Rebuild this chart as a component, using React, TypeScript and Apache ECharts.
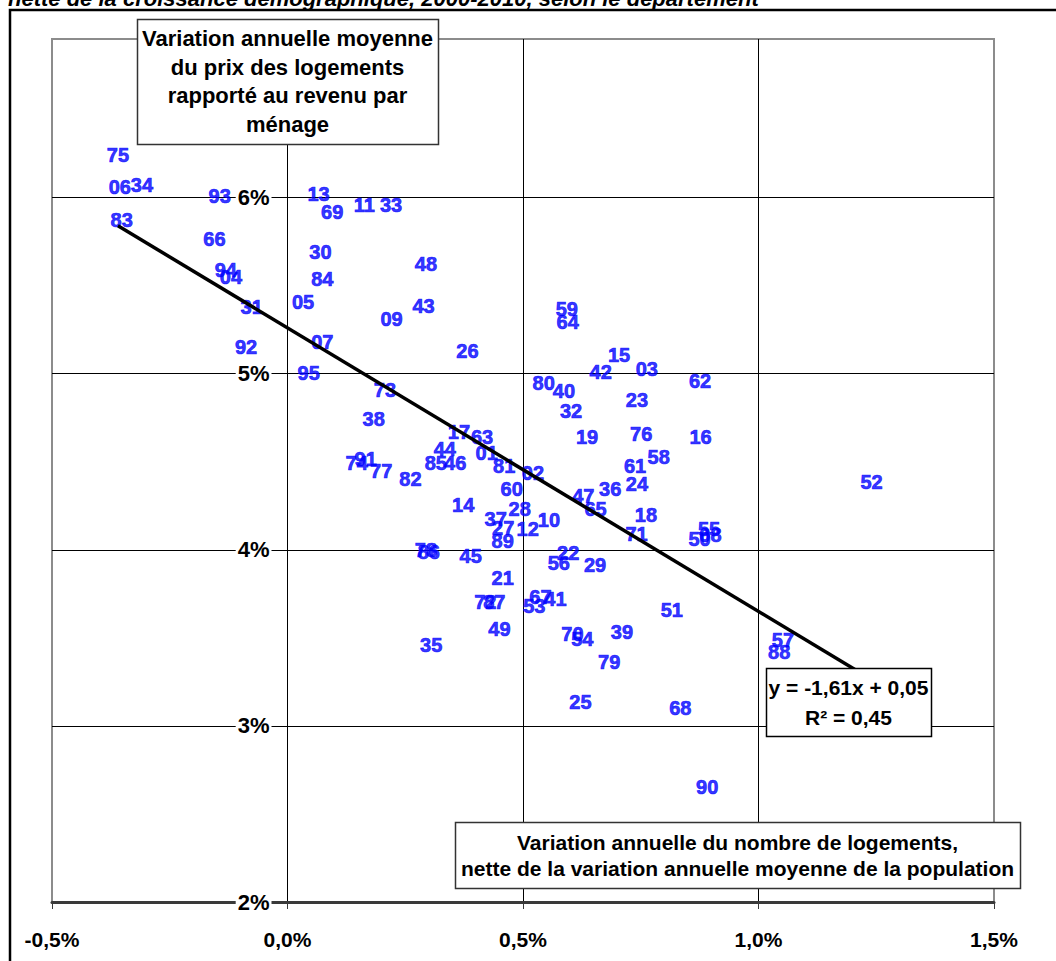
import React, { useEffect, useRef } from "react";
import * as echarts from "echarts";

// Department codes
const codes = ['75','06','34','83','93','13','69','11','33','66','94','04','31','92','30','84','05','07','95','48','09','43','26','59','64','15','42','03','62','73','80','40','32','23','38','17','63','19','76','16','44','01','74','91','77','85','46','82','81','02','61','58','24','36','47','65','60','14','28','37','10','18','27','12','71','89','55','08','50','52','78','86','45','22','56','29','21','72','87','67','41','53','51','49','39','70','54','35','79','57','88','25','68','90'];

// Annual change in number of dwellings net of population growth (%)
const xValues = [-0.360,-0.356,-0.309,-0.352,-0.144,0.066,0.095,0.163,0.220,-0.155,-0.131,-0.120,-0.076,-0.088,0.070,0.074,0.033,0.074,0.045,0.294,0.221,0.289,0.382,0.593,0.595,0.704,0.665,0.763,0.876,0.207,0.544,0.587,0.602,0.742,0.183,0.364,0.413,0.636,0.751,0.877,0.334,0.423,0.147,0.166,0.199,0.315,0.356,0.261,0.460,0.521,0.738,0.788,0.742,0.685,0.628,0.654,0.476,0.373,0.493,0.442,0.555,0.761,0.458,0.510,0.741,0.457,0.895,0.898,0.875,1.240,0.294,0.300,0.389,0.596,0.576,0.653,0.457,0.420,0.439,0.537,0.569,0.524,0.816,0.450,0.710,0.605,0.626,0.305,0.683,1.052,1.044,0.622,0.834,0.891];

// Annual change in housing price relative to household income (%)
const yValues = [6.24,6.06,6.07,5.87,6.01,6.02,5.915,5.956,5.96,5.763,5.586,5.547,5.381,5.153,5.693,5.54,5.409,5.179,5.001,5.625,5.308,5.386,5.128,5.368,5.295,5.108,5.011,5.028,4.96,4.905,4.946,4.899,4.785,4.848,4.745,4.668,4.642,4.643,4.659,4.639,4.574,4.548,4.49,4.517,4.449,4.494,4.494,4.399,4.477,4.436,4.473,4.526,4.376,4.344,4.307,4.23,4.344,4.256,4.23,4.177,4.168,4.2,4.121,4.116,4.092,4.049,4.119,4.081,4.063,4.386,4.0,3.989,3.966,3.983,3.922,3.915,3.841,3.706,3.706,3.733,3.719,3.682,3.656,3.548,3.534,3.524,3.496,3.459,3.364,3.49,3.418,3.138,3.102,2.653];

// Trend line (in % units): y = slope * x + intercept
const trendSlope = -1.61;
const trendIntercept = 5.26;

const titleText = "nette de la croissance démographique, 2000-2010, selon le département";
const yTitleLines = ["Variation annuelle moyenne", "du prix des logements", "rapporté au revenu par", "ménage"];
const xTitleLines = ["Variation annuelle du nombre de logements,", "nette de la variation annuelle moyenne de la population"];
const trendLines = ["y = -1,61x + 0,05", "R² = 0,45"];

const FONT = "'Liberation Sans', Arial, Helvetica, sans-serif";

export default function App() {
  const ref = useRef<HTMLDivElement>(null);

  useEffect(() => {
    if (!ref.current) return;
    const chart = echarts.init(ref.current, undefined, { renderer: "svg" });

    const points = codes.map((c, i) => [xValues[i], yValues[i], c]);
    const xmin = Math.min(...xValues);
    const xmax = Math.max(...xValues);
    const trendData = [
      [xmin, trendSlope * xmin + trendIntercept],
      [xmax, trendSlope * xmax + trendIntercept],
    ];

    chart.setOption({
      animation: false,
      backgroundColor: "#ffffff",
      textStyle: { fontFamily: FONT },
      grid: {
        left: 52,
        top: 39,
        right: 62,
        bottom: 59,
        show: true,
        borderColor: "#8c8c8c",
        borderWidth: 2,
        backgroundColor: "transparent",
      },
      xAxis: {
        type: "value",
        min: -0.5,
        max: 1.5,
        interval: 0.5,
        axisLine: { show: true, onZero: false, lineStyle: { color: "#3a3a3a", width: 3 } },
        axisTick: { show: true, length: 7, lineStyle: { color: "#3a3a3a", width: 1 } },
        axisLabel: {
          show: true,
          showMinLabel: true,
          showMaxLabel: true,
          margin: 27,
          fontSize: 21,
          fontWeight: "bold",
          color: "#000",
          fontFamily: FONT,
          formatter: (v: number) => v.toFixed(1).replace(".", ",").replace("-0,0", "0,0") + "%",
        },
        splitLine: { show: true, showMinLine: false, showMaxLine: false, lineStyle: { color: "#000", width: 1 } },
      },
      yAxis: {
        type: "value",
        min: 2,
        max: 6.9,
        interval: 1,
        offset: -235.5,
        axisLine: { show: true, onZero: false, lineStyle: { color: "#000", width: 1 } },
        axisTick: { show: false },
        axisLabel: {
          show: true,
          margin: 16,
          fontSize: 22,
          fontWeight: "bold",
          color: "#000",
          fontFamily: FONT,
          backgroundColor: "#fff",
          padding: [1, 2],
          formatter: (v: number) => (Math.abs(v - Math.round(v)) < 1e-6 ? Math.round(v) + "%" : ""),
        },
        splitLine: { show: true, showMinLine: false, showMaxLine: false, lineStyle: { color: "#000", width: 1 } },
      },
      series: [
        {
          type: "scatter",
          z: 2,
          data: points,
          symbolSize: 1,
          itemStyle: { color: "rgba(0,0,0,0)" },
          label: {
            show: true,
            position: "inside",
            formatter: (p: any) => p.value[2],
            color: "#0000ff",
            fontWeight: "bold",
            fontSize: 20,
            fontFamily: FONT,
            textBorderWidth: 0.7,
            textBorderColor: "#0000ff",
          },
          emphasis: { disabled: true },
        },
        {
          type: "line",
          z: 3,
          data: trendData,
          symbol: "none",
          lineStyle: { color: "#000", width: 3.5 },
          emphasis: { disabled: true },
        },
      ],
      graphic: [
        {
          type: "rect",
          z: 100,
          shape: { x: 10, y: 10, width: 1200, height: 1200 },
          style: { fill: "none", stroke: "#000", lineWidth: 2.5 },
        },
        {
          type: "text",
          z: 100,
          x: 8,
          y: -2,
          style: {
            text: titleText,
            font: `italic bold 22px ${FONT}`,
            fill: "#000",
            align: "left",
            verticalAlign: "middle",
          },
        },
        {
          type: "rect",
          z: 100,
          shape: { x: 137.5, y: 19.5, width: 301, height: 125 },
          style: { fill: "#fff", stroke: "#333", lineWidth: 1.5 },
        },
        {
          type: "text",
          z: 101,
          x: 287.5,
          y: 81.5,
          style: {
            text: yTitleLines.join("\n"),
            font: `bold 22px ${FONT}`,
            lineHeight: 28.5,
            fill: "#000",
            align: "center",
            verticalAlign: "middle",
          },
        },
        {
          type: "rect",
          z: 100,
          shape: { x: 455.5, y: 822.5, width: 565, height: 66 },
          style: { fill: "#fff", stroke: "#333", lineWidth: 1.5 },
        },
        {
          type: "text",
          z: 101,
          x: 737.5,
          y: 855,
          style: {
            text: xTitleLines.join("\n"),
            font: `bold 21px ${FONT}`,
            lineHeight: 26,
            fill: "#000",
            align: "center",
            verticalAlign: "middle",
          },
        },
        {
          type: "rect",
          z: 100,
          shape: { x: 766.5, y: 668.5, width: 165, height: 68 },
          style: { fill: "#fff", stroke: "#000", lineWidth: 1.5 },
        },
        {
          type: "text",
          z: 101,
          x: 848.5,
          y: 702,
          style: {
            text: trendLines.join("\n"),
            font: `bold 21px ${FONT}`,
            lineHeight: 30,
            fill: "#000",
            align: "center",
            verticalAlign: "middle",
          },
        },
      ],
    });

    return () => {
      chart.dispose();
    };
  }, []);

  return (
    <div
      ref={ref}
      style={{ position: "fixed", left: 0, top: 0, width: 1056, height: 961 }}
    />
  );
}
